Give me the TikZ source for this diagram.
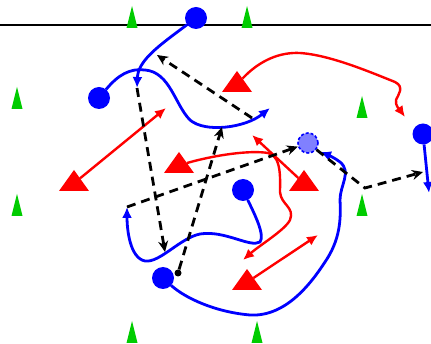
\documentclass[tikz,border=0pt]{standalone}
\usepackage{tikz}
\usetikzlibrary{shapes.geometric, arrows.meta, positioning, calc}
\definecolor{conegreen}{RGB}{0,204,0}
\definecolor{ghostblue}{RGB}{128,128,255}
\tikzstyle{cone} = [isosceles triangle, isosceles triangle stretches, shape border rotate=90, minimum width=11pt, minimum height=22pt, inner sep=0pt, outer sep=0pt, fill=conegreen, anchor=lower side]
\tikzstyle{defender} = [isosceles triangle, isosceles triangle stretches, shape border rotate=90, minimum width=30pt, minimum height=21pt, inner sep=0pt, outer sep=0pt, fill=red, anchor=lower side]
\tikzstyle{player} = [circle, fill=blue, minimum size=22pt, inner sep=0pt, outer sep=0pt]
\tikzstyle{ghost} = [circle, fill=ghostblue, draw=blue, line width=1.6pt, dash pattern=on 3pt off 2pt, minimum size=20pt, inner sep=0pt]
\tikzstyle{ball} = [circle, fill=black, minimum size=7pt, inner sep=0pt]
\tikzstyle{runline} = [blue, line width=2.8pt, -{Latex[length=11pt,width=10pt]}]
\tikzstyle{passline} = [red, line width=2.4pt, -{Latex[length=11pt,width=10pt]}]
\tikzstyle{moveline} = [black, line width=2.8pt, dash pattern=on 9pt off 6pt, -{Stealth[length=11pt,width=10pt]}]

\begin{document}
\begin{tikzpicture}[x=1pt, y=-1pt]
        \useasboundingbox (0,0) rectangle (431,344);
        % Touchline
        \draw [line width=2.2pt] (0,25) -- (431,25);

        % Cones
        \node (c1) [cone] at (132,28) {};
        \node (c2) [cone] at (247,28) {};
        \node (c3) [cone] at (17,109) {};
        \node (c4) [cone] at (362,118) {};
        \node (c5) [cone] at (17,216) {};
        \node (c6) [cone] at (362,216) {};
        \node (c7) [cone] at (132,343) {};
        \node (c8) [cone] at (257,343) {};

        % Defenders
        \node (t1) [defender] at (237,92) {};
        \node (t2) [defender] at (74,191) {};
        \node (t3) [defender] at (179,173) {};
        \node (t4) [defender] at (304,191) {};
        \node (t5) [defender] at (247,290) {};

        % Attackers
        \node (b1) [player] at (196,18) {};
        \node (b2) [player] at (99,98) {};
        \node (b3) [player] at (243,190) {};
        \node (b4) [player] at (163,278) {};
        \node (b5) [player, minimum size=21pt] at (423,134) {};
        \node (lb) [ghost] at (308,143) {};
        \node (dot) [ball] at (178,273) {};

        % Free ends
        \coordinate (run1end) at (137,88);
        \coordinate (run2end) at (270,108);
        \coordinate (run3end) at (127,207);
        \coordinate (run4end) at (320,152);
        \coordinate (run5end) at (429,193);
        \coordinate (pass1end) at (405,117);
        \coordinate (pass2end) at (166,108);
        \coordinate (pass3end) at (243,260);
        \coordinate (pass4end) at (252,135);
        \coordinate (pass5end) at (318,235);
        \coordinate (move1start) at (252,118);
        \coordinate (move1end) at (157,55);
        \coordinate (move2end) at (165,252);
        \coordinate (move3end) at (222,127);
        \coordinate (move5bend) at (365,188);
        \coordinate (move5end) at (423,172);

        % Runs
        \draw [runline] (b1) .. controls (160,45) and (138,60) .. (run1end);
        \draw [runline] (b2) .. controls (118,75) and (130,68) .. (145,70)
            .. controls (170,72) and (175,105) .. (190,120)
            .. controls (205,133) and (245,128) .. (run2end);
        \draw [runline] (b3) .. controls (255,215) and (265,235) .. (260,242)
            .. controls (250,248) and (225,230) .. (200,234)
            .. controls (180,238) and (160,263) .. (145,261)
            .. controls (130,258) and (127,230) .. (run3end);
        \draw [runline] (b4) .. controls (185,298) and (215,312) .. (250,315)
            .. controls (285,317) and (310,285) .. (325,262)
            .. controls (340,240) and (341,220) .. (340,200)
            .. controls (340,185) and (352,172) .. (340,162)
            .. controls (335,158) and (328,155) .. (run4end);
        \draw [runline] (b5) -- (run5end);

        % Passes
        \draw [passline] (t1) .. controls (260,60) and (280,52) .. (300,53)
            .. controls (330,55) and (370,72) .. (395,82)
            .. controls (405,87) and (398,95) .. (396,100)
            .. controls (395,106) and (400,110) .. (pass1end);
        \draw [passline] (t2) -- (pass2end);
        \draw [passline] (t3) .. controls (215,155) and (250,150) .. (268,153)
            .. controls (282,156) and (280,180) .. (280,192)
            .. controls (281,205) and (295,207) .. (290,220)
            .. controls (285,230) and (260,245) .. (pass3end);
        \draw [passline] (t4) -- (pass4end);
        \draw [passline] (t5) -- (pass5end);

        % Off-ball movement
        \draw [moveline] (move1start) -- (move1end);
        \draw [moveline] (run1end) -- (move2end);
        \draw [moveline] (dot) -- (move3end);
        \draw [moveline] (run3end) -- (lb);
        \draw [moveline] (lb) -- (move5bend) -- (move5end);
    \end{tikzpicture}
\end{document}
